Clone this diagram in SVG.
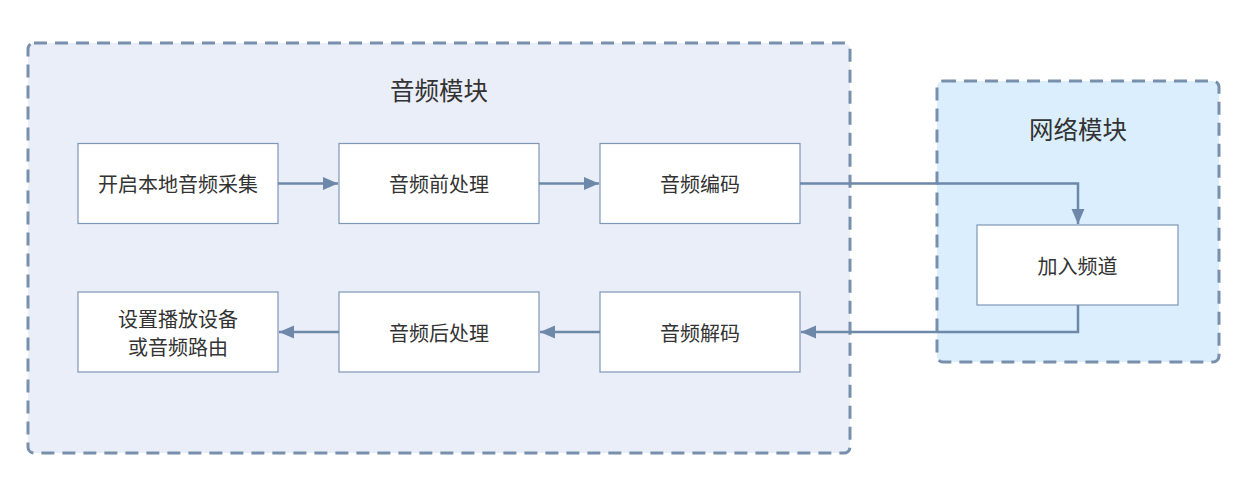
<svg xmlns="http://www.w3.org/2000/svg" width="1251" height="481" viewBox="0 0 1251 481">
<defs>
<marker id="ah" markerWidth="16" markerHeight="14" refX="15" refY="6.5" orient="auto" markerUnits="userSpaceOnUse">
<path d="M0,0 L15,6.5 L0,13 Z" fill="#6e88aa"/>
</marker>
<style>
.grp{stroke:#7890ac;stroke-width:3;stroke-dasharray:13 8}
.box{fill:#ffffff;stroke:#7f97b7;stroke-width:1.2}
.t{font-family:"Noto Sans CJK SC","Noto Sans",sans-serif;font-size:20px;fill:#333;text-anchor:middle;dominant-baseline:central}
.h{font-family:"Noto Sans CJK SC","Noto Sans",sans-serif;font-size:24.5px;fill:#333;text-anchor:middle;dominant-baseline:central}
.c{fill:none;stroke:#6e88aa;stroke-width:2.5;marker-end:url(#ah)}
</style>
</defs>
<rect width="1251" height="481" fill="#ffffff"/>
<g id="audio-module">
<rect class="grp" x="28" y="43" width="822" height="410" rx="6" fill="#eaeef8"/>
<text class="h" x="439" y="89">音频模块</text>
</g>
<g id="network-module">
<rect class="grp" x="937" y="81" width="282" height="281" rx="6" fill="#dbeefd"/>
<text class="h" x="1078" y="128">网络模块</text>
</g>
<g id="n1"><rect class="box" x="78" y="143.5" width="200" height="80"/><text class="t" x="178" y="183.5">开启本地音频采集</text></g>
<g id="n2"><rect class="box" x="339" y="143.5" width="200" height="80"/><text class="t" x="439" y="183.5">音频前处理</text></g>
<g id="n3"><rect class="box" x="600" y="143.5" width="200" height="80"/><text class="t" x="700" y="183.5">音频编码</text></g>
<g id="n4"><rect class="box" x="977" y="225" width="201" height="80"/><text class="t" x="1077.5" y="265">加入频道</text></g>
<g id="n5"><rect class="box" x="600" y="292" width="200" height="80"/><text class="t" x="700" y="332">音频解码</text></g>
<g id="n6"><rect class="box" x="339" y="292" width="200" height="80"/><text class="t" x="439" y="332">音频后处理</text></g>
<g id="n7"><rect class="box" x="78" y="292" width="200" height="80"/><text class="t" x="178" y="318">设置播放设备</text><text class="t" x="178" y="346">或音频路由</text></g>
<g id="connectors">
<path class="c" d="M278,183.5 L338,183.5"/>
<path class="c" d="M539,183.5 L599,183.5"/>
<path class="c" d="M800,183.5 L1078,183.5 L1078,224"/>
<path class="c" d="M1078,305 L1078,332 L801,332"/>
<path class="c" d="M600,332 L540,332"/>
<path class="c" d="M339,332 L279,332"/>
</g>
</svg>
